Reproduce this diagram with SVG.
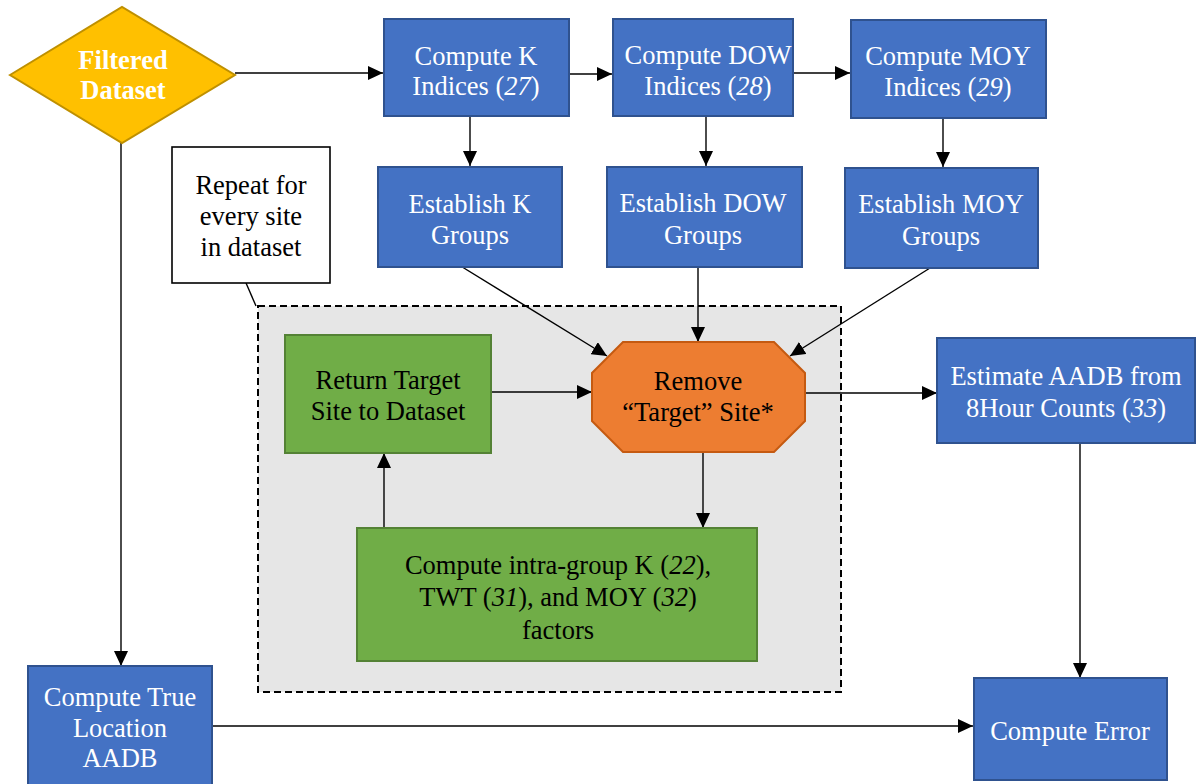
<svg xmlns="http://www.w3.org/2000/svg" width="1196" height="784" viewBox="0 0 1196 784">
<defs>
<marker id="ah" markerWidth="15" markerHeight="14" refX="15" refY="7" orient="auto" markerUnits="userSpaceOnUse">
<path d="M0,0 L15,7 L0,14 Z" fill="#000"/>
</marker>
<style>
text{font-family:'Liberation Serif','Times New Roman',Times,'DejaVu Serif',serif;font-size:26.5px;text-anchor:middle}
.w{fill:#fff}
.k{fill:#000}
.b{font-weight:bold}
.i{font-style:italic}
.blue{fill:#4472C4;stroke:#2F528F;stroke-width:2}
.green{fill:#70AD47;stroke:#548235;stroke-width:2}
.c{fill:none;stroke:#000;stroke-width:1.4;marker-end:url(#ah)}
</style>
</defs>
<rect width="1196" height="784" fill="#fff"/>

<g id="loop">
<rect x="258" y="306" width="583" height="386" fill="#E6E6E6" stroke="#000" stroke-width="2" stroke-dasharray="7,4"/>
</g>

<g id="connectors">
<path class="c" d="M235,73 L383,73"/>
<path class="c" d="M569,74 L612,74"/>
<path class="c" d="M793,73 L850,73"/>
<path class="c" d="M470,116 L470,166"/>
<path class="c" d="M706,116 L706,166"/>
<path class="c" d="M943,118 L943,167"/>
<path class="c" d="M459,265 L607,356"/>
<path class="c" d="M698,267 L698,342"/>
<path class="c" d="M930,268 L790,356"/>
<path class="c" d="M489,392 L592,392"/>
<path class="c" d="M805,393 L937,393"/>
<path class="c" d="M703,452 L703,528"/>
<path class="c" d="M384,528 L384,453"/>
<path class="c" d="M1080,443 L1080,678"/>
<path class="c" d="M121,143 L121,666"/>
<path class="c" d="M212,726 L973,726"/>
<path d="M246,283 L256,306" fill="none" stroke="#000" stroke-width="1.4"/>
</g>

<g id="filtered">
<polygon points="10,75 122,7 235,75 122,143" fill="#FFC000" stroke="#BF9000" stroke-width="2"/>
<text class="w b" x="123" y="69">Filtered</text>
<text class="w b" x="123" y="99">Dataset</text>
</g>

<g id="computeK">
<rect class="blue" x="384" y="19" width="185" height="97"/>
<text class="w" x="476" y="65">Compute K</text>
<text class="w" x="476" y="95">Indices (<tspan class="i">27</tspan>)</text>
</g>

<g id="computeDOW">
<rect class="blue" x="613" y="19" width="180" height="97"/>
<text class="w" x="708" y="64">Compute DOW</text>
<text class="w" x="708" y="95">Indices (<tspan class="i">28</tspan>)</text>
</g>

<g id="computeMOY">
<rect class="blue" x="851" y="20" width="195" height="98"/>
<text class="w" x="948" y="65">Compute MOY</text>
<text class="w" x="948" y="96">Indices (<tspan class="i">29</tspan>)</text>
</g>

<g id="estK">
<rect class="blue" x="378" y="167" width="184" height="100"/>
<text class="w" x="470" y="213">Establish K</text>
<text class="w" x="470" y="244">Groups</text>
</g>

<g id="estDOW">
<rect class="blue" x="607" y="167" width="195" height="100"/>
<text class="w" x="703" y="212">Establish DOW</text>
<text class="w" x="703" y="244">Groups</text>
</g>

<g id="estMOY">
<rect class="blue" x="845" y="168" width="193" height="100"/>
<text class="w" x="941" y="213">Establish MOY</text>
<text class="w" x="941" y="245">Groups</text>
</g>

<g id="repeat">
<rect x="172" y="147" width="158" height="136" fill="#fff" stroke="#000" stroke-width="1.6"/>
<text class="k" x="251" y="194">Repeat for</text>
<text class="k" x="251" y="225">every site</text>
<text class="k" x="251" y="256">in dataset</text>
</g>

<g id="returnTarget">
<rect class="green" x="285" y="335" width="206" height="118"/>
<text class="k" x="388" y="389">Return Target</text>
<text class="k" x="388" y="420">Site to Dataset</text>
</g>

<g id="removeTarget">
<polygon points="623,342 774,342 805,373 805,421 774,452 623,452 592,421 592,373" fill="#ED7D31" stroke="#C55A11" stroke-width="2"/>
<text class="k" x="698" y="390">Remove</text>
<text class="k" x="698" y="421">“Target” Site*</text>
</g>

<g id="intraGroup">
<rect class="green" x="357" y="528" width="400" height="133"/>
<text class="k" x="558" y="574">Compute intra-group K (<tspan class="i">22</tspan>),</text>
<text class="k" x="558" y="606">TWT (<tspan class="i">31</tspan>), and MOY (<tspan class="i">32</tspan>)</text>
<text class="k" x="558" y="639">factors</text>
</g>

<g id="estimate">
<rect class="blue" x="937" y="338" width="258" height="105"/>
<text class="w" x="1066" y="385">Estimate AADB from</text>
<text class="w" x="1066" y="417">8Hour Counts (<tspan class="i">33</tspan>)</text>
</g>

<g id="computeError">
<rect class="blue" x="974" y="678" width="193" height="102"/>
<text class="w" x="1070" y="740">Compute Error</text>
</g>

<g id="trueLocation">
<rect class="blue" x="28" y="666" width="184" height="122"/>
<text class="w" x="120" y="706">Compute True</text>
<text class="w" x="120" y="737">Location</text>
<text class="w" x="120" y="767">AADB</text>
</g>
</svg>
